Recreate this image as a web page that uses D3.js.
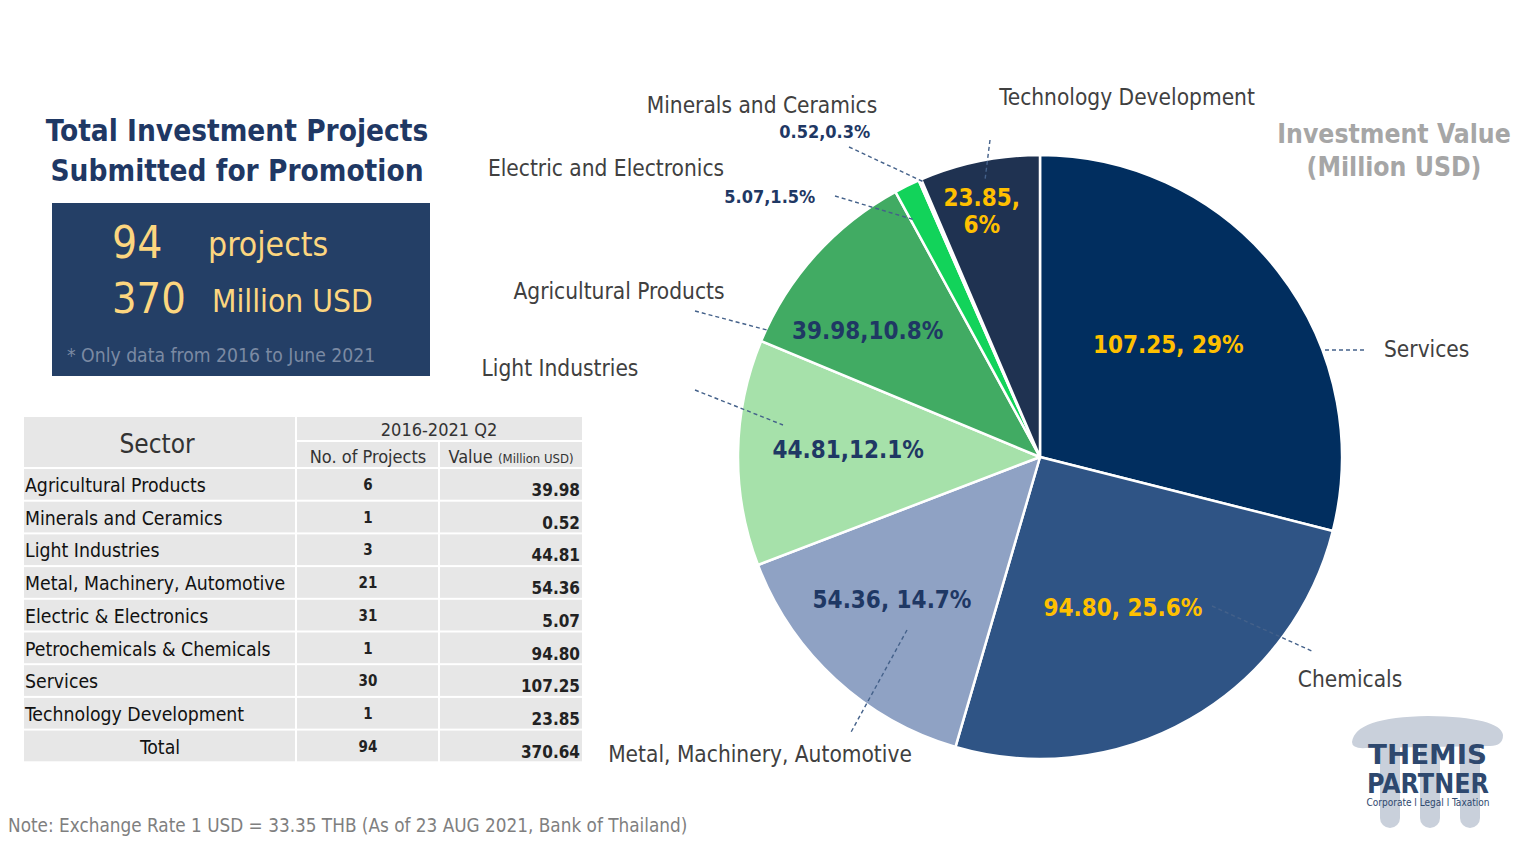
<!DOCTYPE html>
<html><head><meta charset="utf-8">
<script src="https://cdn.jsdelivr.net/npm/d3@7"></script>
<style>
html,body{margin:0;padding:0;background:#fff;}
svg{display:block;}
text{font-family:"DejaVu Sans Condensed","DejaVu Sans",sans-serif;}
</style></head>
<body>
<svg id="c" width="1536" height="853"></svg>
<script>
// ---------- DATA ----------
const pieSectors = ["Services","Chemicals","Metal, Machinery, Automotive","Light Industries","Agricultural Products","Electric and Electronics","Minerals and Ceramics","Technology Development"];
const pieValues  = [107.25, 94.80, 54.36, 44.81, 39.98, 5.07, 0.52, 23.85];
const pieLabels  = [["107.25, 29%"],["94.80, 25.6%"],["54.36, 14.7%"],["44.81,12.1%"],["39.98,10.8%"],["5.07,1.5%"],["0.52,0.3%"],["23.85,","6%"]];

const tableSectors  = ["Agricultural Products","Minerals and Ceramics","Light Industries","Metal, Machinery, Automotive","Electric & Electronics","Petrochemicals & Chemicals","Services","Technology Development"];
const tableProjects = [6, 1, 3, 21, 31, 1, 30, 1];
const tableValues   = ["39.98","0.52","44.81","54.36","5.07","94.80","107.25","23.85"];
const totalProjects = 94;
const totalValue    = "370.64";

// ---------- STYLE / LAYOUT ----------
const colors = ["#012e5f","#2f5485","#8fa2c4","#a6e1aa","#41ab63","#12d35a","#ffffff","#1f3251"];
const labelColors = ["#ffc000","#ffc000","#1f3864","#1f3864","#1f3864","#1f3864","#1f3864","#ffc000"];
// polar placement (deg clockwise from top, radius px) relative to pie centre
const valueLabelPolar = [[48.6,171],[151.2,172],[226.2,205],[272.4,192],[306.4,214],[313.9,375],[326.5,390],[346.7,253]];
const valueLabelSize  = [24,24,24,24,24,18,18,24];
const nameLabelPos = [[1384,349,"start"],[1350,679,"middle"],[760,754,"middle"],[560,368,"middle"],[619,291,"middle"],[606,168,"middle"],[762,105,"middle"],[1127,97,"middle"]];
const leaderLines = [[1325,350,1367,350],[1212,606,1314,652],[907,630,850,734],[695,390,783,425],[695,311,767,330],[835,196,915,220],[849,147,924,182],[990,140,985,180]];

const svg = d3.select("#c");
const cx = 1040, cy = 457, R = 302;

// ---------- LEFT TITLE ----------
svg.append("text").attr("x",237).attr("y",141).attr("text-anchor","middle")
  .attr("font-size",29.5).attr("font-weight","bold").attr("fill","#1f3864").text("Total Investment Projects");
svg.append("text").attr("x",237).attr("y",181).attr("text-anchor","middle")
  .attr("font-size",29.5).attr("font-weight","bold").attr("fill","#1f3864").text("Submitted for Promotion");

svg.append("rect").attr("x",52).attr("y",203).attr("width",378).attr("height",173).attr("fill","#243f66");
const gold = "#fcd67f";
svg.append("text").attr("x",112).attr("y",258).attr("font-size",44).attr("fill",gold).text(totalProjects);
svg.append("text").attr("x",208).attr("y",256).attr("font-size",33.5).attr("fill",gold).text("projects");
svg.append("text").attr("x",112).attr("y",313).attr("font-size",43).attr("fill",gold).text(Math.floor(+totalValue));
svg.append("text").attr("x",212).attr("y",312).attr("font-size",31.5).attr("fill",gold).text("Million USD");
svg.append("text").attr("x",67).attr("y",362).attr("font-size",19.2).attr("fill","#7b8aa3").text("* Only data from 2016 to June 2021");

// ---------- TABLE ----------
const tX = [24, 297, 440, 582];
const headTop = 417, headMid = 442, bodyTop = 469;
const rowH = 32.7;
const cellFill = "#e7e7e7";
const tg = svg.append("g");
// header cells
tg.append("rect").attr("x",tX[0]).attr("y",headTop).attr("width",tX[1]-tX[0]-2).attr("height",bodyTop-headTop-2).attr("fill",cellFill);
tg.append("rect").attr("x",tX[1]).attr("y",headTop).attr("width",tX[3]-tX[1]).attr("height",headMid-headTop-2).attr("fill",cellFill);
tg.append("rect").attr("x",tX[1]).attr("y",headMid).attr("width",tX[2]-tX[1]-2).attr("height",bodyTop-headMid-2).attr("fill",cellFill);
tg.append("rect").attr("x",tX[2]).attr("y",headMid).attr("width",tX[3]-tX[2]).attr("height",bodyTop-headMid-2).attr("fill",cellFill);
tg.append("text").attr("x",157).attr("y",453).attr("text-anchor","middle").attr("font-size",26).attr("fill","#333").text("Sector");
tg.append("text").attr("x",439).attr("y",436).attr("text-anchor","middle").attr("font-size",18).attr("fill","#333").text("2016-2021 Q2");
tg.append("text").attr("x",368).attr("y",463).attr("text-anchor","middle").attr("font-size",18).attr("fill","#333").text("No. of Projects");
const vh = tg.append("text").attr("x",511).attr("y",463).attr("text-anchor","middle").attr("fill","#333");
vh.append("tspan").attr("font-size",18).text("Value ");
vh.append("tspan").attr("font-size",13).text("(Million USD)");

const rows = tableSectors.map((s,i)=>({s, p:tableProjects[i], v:tableValues[i], total:false}));
rows.push({s:"Total", p:totalProjects, v:totalValue, total:true});
const yRow = d3.scaleBand().domain(d3.range(rows.length)).range([bodyTop, bodyTop + rowH*rows.length]).padding(0);
const rg = tg.selectAll("g.row").data(rows).join("g").attr("class","row")
  .attr("transform",(d,i)=>`translate(0,${yRow(i)})`);
[0,1,2].forEach(c=>{
  rg.append("rect").attr("x",tX[c]).attr("y",0).attr("width",tX[c+1]-tX[c]-(c<2?2:0)).attr("height",yRow.bandwidth()-2).attr("fill",cellFill);
});
rg.append("text").attr("x",d=>d.total?160:25).attr("y",23).attr("text-anchor",d=>d.total?"middle":"start")
  .attr("font-size",19.3).attr("fill","#111").text(d=>d.s);
rg.append("text").attr("x",368).attr("y",21).attr("text-anchor","middle").attr("font-size",15).attr("font-weight","bold").attr("fill","#222").text(d=>d.p);
rg.append("text").attr("x",580).attr("y",27).attr("text-anchor","end").attr("font-size",17).attr("font-weight","bold").attr("fill","#222").text(d=>d.v);

// ---------- PIE ----------
const pie = d3.pie().sort(null).value(d=>d)(pieValues);
const arc = d3.arc().innerRadius(0).outerRadius(R);
const pg = svg.append("g").attr("transform",`translate(${cx},${cy})`);
pg.selectAll("path").data(pie).join("path").attr("d",arc)
  .attr("fill",(d,i)=>colors[i]).attr("stroke","#fff").attr("stroke-width",2.5).attr("stroke-linejoin","round");

// leader lines
svg.append("g").selectAll("line").data(leaderLines).join("line")
  .attr("x1",d=>d[0]).attr("y1",d=>d[1]).attr("x2",d=>d[2]).attr("y2",d=>d[3])
  .attr("stroke","#44618a").attr("stroke-width",1.4).attr("stroke-dasharray","4,3");

// value labels
pieLabels.forEach((lines,i)=>{
  const [a,r] = valueLabelPolar[i];
  const rad = a*Math.PI/180;
  const x = cx + r*Math.sin(rad), y = cy - r*Math.cos(rad);
  const fs = valueLabelSize[i];
  const lh = fs*1.15;
  const t = svg.append("text").attr("text-anchor","middle").attr("font-size",fs).attr("font-weight","bold")
    .attr("fill",labelColors[i]);
  lines.forEach((l,k)=>{
    t.append("tspan").attr("x",x).attr("y", y + fs*0.36 + (k-(lines.length-1)/2)*lh).text(l);
  });
});

// name labels
pieSectors.forEach((n,i)=>{
  const [x,y,anc] = nameLabelPos[i];
  svg.append("text").attr("x",x).attr("y",y+8).attr("text-anchor",anc).attr("font-size",22.5).attr("fill","#404040").text(n);
});

// chart title
svg.append("text").attr("x",1394).attr("y",143).attr("text-anchor","middle").attr("font-size",26.3).attr("font-weight","bold").attr("fill","#a6a6a6").text("Investment Value");
svg.append("text").attr("x",1394).attr("y",176).attr("text-anchor","middle").attr("font-size",26.3).attr("font-weight","bold").attr("fill","#a6a6a6").text("(Million USD)");

// ---------- NOTE ----------
svg.append("text").attr("x",8).attr("y",832).attr("font-size",18.8).attr("fill","#7f7f7f").text("Note: Exchange Rate 1 USD = 33.35 THB (As of 23 AUG 2021, Bank of Thailand)");

// ---------- LOGO ----------
const lg = svg.append("g");
const logoGray = "#c9d0db";
[1390,1430,1470].forEach(x=>{
  lg.append("rect").attr("x",x-10).attr("y",735).attr("width",20).attr("height",93).attr("rx",10).attr("fill",logoGray);
});
lg.append("path").attr("d","M1352,742 Q1355,717 1428,716 Q1500,717 1503,735 Q1503,746 1490,746 L1366,748 Q1352,749 1352,742 Z").attr("fill",logoGray);
const lf = "'Liberation Sans',Arial,sans-serif";
lg.append("text").attr("x",1368).attr("y",764).attr("font-size",27).attr("font-weight","bold").attr("fill","#2e486e").attr("font-family",lf)
  .attr("textLength",119).attr("lengthAdjust","spacingAndGlyphs").text("THEMIS");
lg.append("text").attr("x",1367).attr("y",793).attr("font-size",27).attr("font-weight","bold").attr("fill","#2e486e").attr("font-family",lf)
  .attr("textLength",122).attr("lengthAdjust","spacingAndGlyphs").text("PARTNER");
lg.append("text").attr("x",1428).attr("y",806).attr("text-anchor","middle").attr("font-size",10).attr("fill","#2e486e").attr("font-family",lf).text("Corporate l Legal l Taxation");
</script>
</body></html>
